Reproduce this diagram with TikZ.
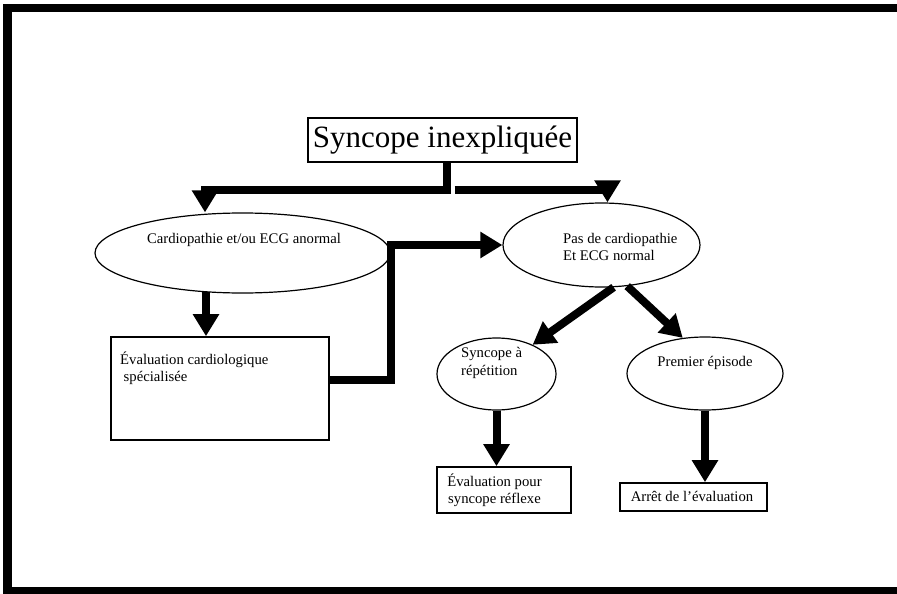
\documentclass[tikz,border=0pt]{standalone}
\usepackage{fontspec}
\setmainfont{Liberation Serif}
\usetikzlibrary{shapes.geometric,arrows.meta,positioning}
\tikzset{
  oval/.style  = {ellipse, draw, line width=1.2pt, inner sep=0pt},
  cadre/.style = {rectangle, draw, line width=1.6pt, inner sep=0pt},
  lab/.style   = {inner sep=0pt, align=left, font=\fontsize{14.7}{17.5}\selectfont},
  fl/.style    = {-{Triangle[length=22pt,width=25pt]}, line width=8pt},
  frame/.style = {line width=8.5pt, line join=miter},
}

\begin{document}
\begin{tikzpicture}[x=1pt, y=-1pt]
  \useasboundingbox (0,0) rectangle (897,594);
  \draw[frame] (897,8) -- (7.5,8) -- (7.5,591) -- (897,591);

  % shapes
  \node[cadre, minimum width=269pt, minimum height=44pt,
        font=\fontsize{31}{35}\selectfont] (top) at (442.5,140) {Syncope inexpliquée};
  \node[oval, minimum width=295pt, minimum height=80pt] (cardio) at (242.5,253) {};
  \node[oval, minimum width=197pt, minimum height=84pt] (pas) at (601.5,245) {};
  \node[cadre, minimum width=218pt, minimum height=103pt] (evalc) at (220,388.5) {};
  \node[oval, minimum width=119pt, minimum height=72pt] (rep) at (496.5,374) {};
  \node[oval, minimum width=156pt, minimum height=73pt] (prem) at (705,373.5) {};
  \node[cadre, minimum width=134pt, minimum height=46pt] (refl) at (504,490) {};
  \node[cadre, minimum width=147pt, minimum height=28pt] (arret) at (693.5,497) {};

  % texts
  \node[lab] (tcardio) at (244,239.5) {Cardiopathie et/ou ECG anormal};
  \node[lab, anchor=west] (tpas) at (563,247) {Pas de cardiopathie\\Et ECG normal};
  \node[lab, anchor=west] (tevalc) at (120,368.5) {Évaluation cardiologique\\\hspace*{3.5pt}spécialisée};
  \node[lab, anchor=west] (trep) at (461,363) {Syncope à\\répétition};
  \node[lab] (tprem) at (705,362.5) {Premier épisode};
  \node[lab, align=center] (trefl) at (494.5,490.5) {Évaluation pour\\syncope réflexe};
  \node[lab] (tarret) at (692,496) {Arrêt de l’évaluation};

  % arrows
  \coordinate (split) at (446.5,190);
  \coordinate (c1) at ([xshift=-36.5pt,yshift=2pt]cardio.south);
  \draw[fl] (top.south -| split) -- (split) -| ([xshift=-37.5pt]cardio.north);
  \draw[fl] ([xshift=8pt]split) -| ([xshift=6pt]pas.north);
  \draw[fl] (c1) -- (c1 |- evalc.north);
  \draw[fl] ([yshift=8.5pt]evalc.east) -- ++(61,0) |- (pas.west);
  \draw[fl] (pas.-74) -- (rep.39);
  \draw[fl] (pas.-58) -- (prem.122);
  \draw[fl] (rep.south) -- (rep.south |- refl.north);
  \draw[fl] (prem.south) -- (prem.south |- arret.north);
\end{tikzpicture}
\end{document}
